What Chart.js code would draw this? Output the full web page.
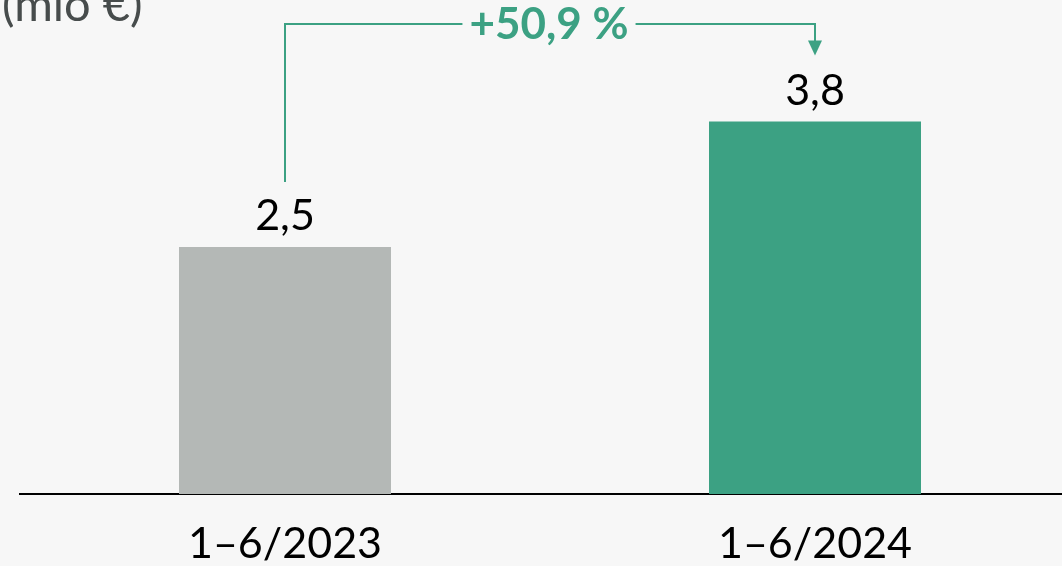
<!DOCTYPE html>
<html>
<head>
<meta charset="utf-8">
<script src="https://cdn.jsdelivr.net/npm/chart.js@4/dist/chart.umd.min.js"></script>
<style>
  html, body { margin: 0; padding: 0; background: #f7f7f7; overflow: hidden; }
  #wrap { width: 1062px; height: 566px; overflow: hidden; }
</style>
</head>
<body>
<div id="wrap"><canvas id="revenue" width="1080" height="566"></canvas></div>
<script>
var categories = ['1–6/2023', '1–6/2024'];
var values = [2.5, 3.77];
var barColors = ['#b4b8b6', '#3ca183'];
var unitLabel = '(mio €)';
var growthLabel = '+50,9 %';

var green = '#3ca183';
var fontFamily = 'Lato, "Open Sans", sans-serif';

function formatValue(v) {
  return v.toFixed(1).replace('.', ',');
}

var annotations = {
  id: 'annotations',
  afterDatasetsDraw: function (chart) {
    var ctx = chart.ctx;
    var bars = chart.getDatasetMeta(0).data;

    ctx.save();
    // value labels
    ctx.fillStyle = '#000';
    ctx.font = '43px ' + fontFamily;
    ctx.textAlign = 'center';
    ctx.textBaseline = 'bottom';
    bars.forEach(function (bar, i) {
      ctx.fillText(formatValue(values[i]), bar.x, bar.y - 9);
    });

    // unit label
    ctx.fillStyle = '#474c4c';
    ctx.font = '47px ' + fontFamily;
    ctx.textAlign = 'left';
    ctx.textBaseline = 'alphabetic';
    ctx.fillText(unitLabel, 2, 21);

    // growth connector
    var x1 = bars[0].x, x2 = bars[1].x;
    var topY = 24;
    var startY = bars[0].y - 65;
    var tipY = bars[1].y - 66;
    ctx.font = 'bold 44px ' + fontFamily;
    var textW = ctx.measureText(growthLabel).width;
    var midX = (x1 + x2) / 2 - 1;
    var gap = 7;

    ctx.strokeStyle = green;
    ctx.lineWidth = 2;
    ctx.beginPath();
    ctx.moveTo(x1, startY);
    ctx.lineTo(x1, topY);
    ctx.lineTo(midX - textW / 2 - gap, topY);
    ctx.moveTo(midX + textW / 2 + gap, topY);
    ctx.lineTo(x2, topY);
    ctx.lineTo(x2, tipY - 14);
    ctx.stroke();

    ctx.fillStyle = green;
    ctx.beginPath();
    ctx.moveTo(x2 - 7, tipY - 15);
    ctx.lineTo(x2 + 7, tipY - 15);
    ctx.lineTo(x2, tipY);
    ctx.closePath();
    ctx.fill();

    ctx.textAlign = 'center';
    ctx.textBaseline = 'middle';
    ctx.fillText(growthLabel, midX, topY + 1);
    ctx.restore();
  }
};

new Chart(document.getElementById('revenue'), {
  type: 'bar',
  data: {
    labels: categories,
    datasets: [{
      data: values,
      backgroundColor: barColors,
      borderWidth: 0,
      categoryPercentage: 1,
      barPercentage: 0.4
    }]
  },
  options: {
    responsive: false,
    animation: false,
    layout: { padding: { left: 20, top: 0, right: 0, bottom: 0 } },
    plugins: {
      legend: { display: false },
      tooltip: { enabled: false }
    },
    scales: {
      x: {
        grid: { display: false },
        border: { display: true, color: '#000', width: 2 },
        ticks: {
          color: '#000',
          padding: 16,
          font: { family: fontFamily, size: 43 }
        },
        afterFit: function (scale) {
          scale.height = 72;
        }
      },
      y: {
        display: false,
        min: 0,
        max: 5
      }
    }
  },
  plugins: [annotations]
});
</script>
</body>
</html>
